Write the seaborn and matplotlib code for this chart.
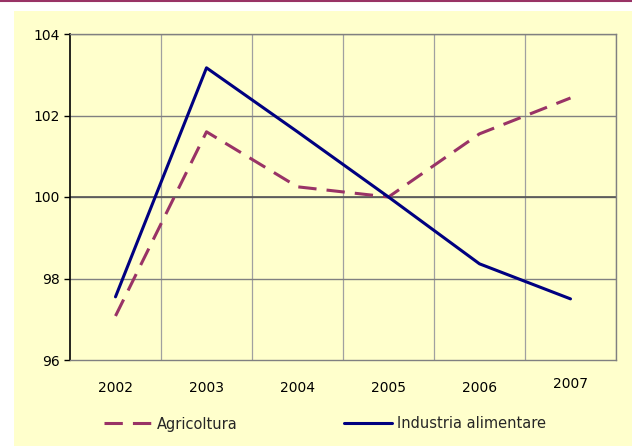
import matplotlib
matplotlib.use("Agg")
import matplotlib.pyplot as plt
from matplotlib.patches import Rectangle
from matplotlib.lines import Line2D
import seaborn as sns
import pandas as pd

# Index values (2005 = 100)
years = ["2002", "2003", "2004", "2005", "2006", "2007"]
agricoltura = [97.08, 101.6, 100.25, 100.0, 101.55, 102.43]
industria = [97.55, 103.17, 101.6, 100.0, 98.36, 97.5]
series_names = ["Agricoltura", "Industria alimentare"]
y_ticks = [96, 98, 100, 102, 104]

BG = "#FFFFCC"
C_AGR = "#993366"
C_IND = "#000080"
DASH = (6.0, 3.3)

sns.set_theme(style="white")
plt.rcParams["font.family"] = ["DejaVu Sans"]

df = pd.DataFrame({
    "anno": list(range(len(years))) * 2,
    "valore": agricoltura + industria,
    "serie": [series_names[0]] * len(years) + [series_names[1]] * len(years),
})

fig = plt.figure(figsize=(6.32, 4.46), dpi=100)
fig.patch.set_facecolor("white")
# pale panel behind the chart, and the thin rule along the top edge
panel = Rectangle((14 / 632, 0), 1 - 14 / 632, 1 - 11 / 446,
                  transform=fig.transFigure, facecolor=BG, edgecolor="none", zorder=-5)
fig.add_artist(panel)
fig.add_artist(Line2D([0, 1], [1 - 1 / 446, 1 - 1 / 446], transform=fig.transFigure,
                      color=C_AGR, lw=1.5, zorder=-4))

ax = fig.add_axes([70 / 632, 1 - 360 / 446, (616 - 70) / 632, (360 - 34) / 446])
ax.set_zorder(2)
ax.set_facecolor(BG)

sns.lineplot(data=df, x="anno", y="valore", hue="serie", style="serie",
             palette={series_names[0]: C_AGR, series_names[1]: C_IND},
             dashes={series_names[0]: DASH, series_names[1]: ""},
             linewidth=2.2, legend=False, ax=ax, zorder=3)

ax.set_xlim(-0.5, len(years) - 0.5)
ax.set_ylim(96, 104)
ax.set_yticks(y_ticks)
ax.set_yticklabels([str(v) for v in y_ticks], fontsize=10)

# category boundaries as vertical grid lines
for b in range(len(years)):
    ax.axvline(b + 0.5, color="#A0A0A0", lw=0.9, zorder=1)
for v in y_ticks[1:]:
    ax.axhline(v, color="#808080", lw=1.0, zorder=1)
ax.axhline(100, color="#555555", lw=1.2, zorder=2)

ax.set_xticks([])
for i, lab in enumerate(years):
    dy = -0.69 if i < len(years) - 1 else -0.59
    ax.text(i, 96 + dy, lab, ha="center", va="center", fontsize=10, color="black")

ax.set_xlabel("")
ax.set_ylabel("")
for side in ["top", "right", "bottom"]:
    ax.spines[side].set_color("#808080")
    ax.spines[side].set_linewidth(1.0)
ax.spines["left"].set_color("black")
ax.spines["left"].set_linewidth(1.2)
ax.tick_params(axis="y", which="major", direction="out", length=4, width=1,
               color="black", left=True, pad=3, labelcolor="black")

handles = [Line2D([], [], color=C_AGR, lw=2.2, dashes=DASH),
           Line2D([], [], color=C_IND, lw=2.2)]
fig.legend(handles, series_names, loc="center left",
           bbox_to_anchor=(104 / 632, 1 - 424 / 446), ncol=2, frameon=False,
           fontsize=10.5, handlelength=3.3, handletextpad=0.34, columnspacing=7.3,
           borderpad=0, borderaxespad=0)

fig.savefig("out.png", dpi=100, facecolor=fig.get_facecolor())
